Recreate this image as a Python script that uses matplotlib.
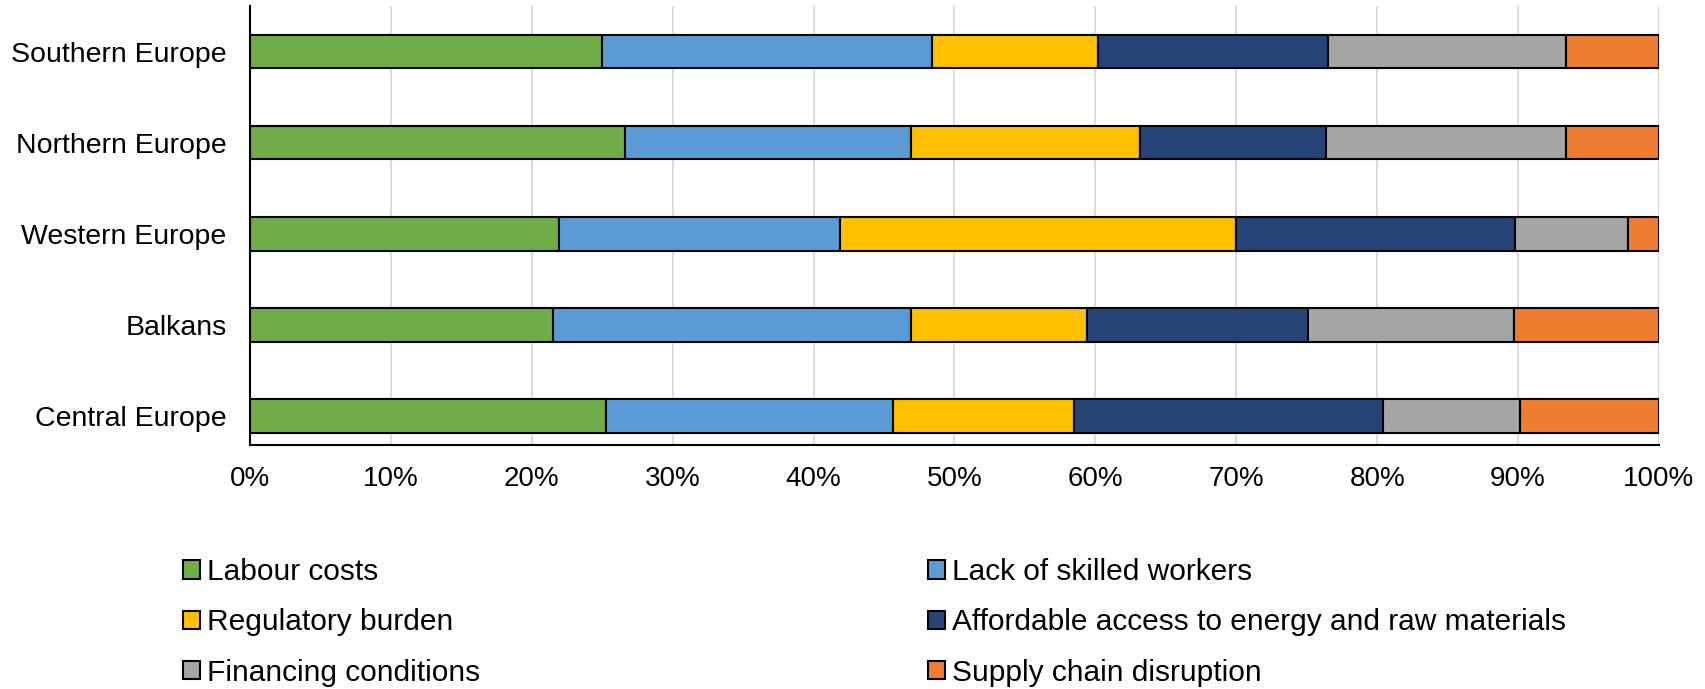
import numpy as np
import matplotlib.pyplot as plt
from matplotlib.ticker import PercentFormatter

plt.rcParams["font.family"] = ["Liberation Sans", "DejaVu Sans"]

regions = ["Central Europe", "Balkans", "Western Europe", "Northern Europe", "Southern Europe"]
series = ["Labour costs", "Lack of skilled workers", "Regulatory burden",
          "Affordable access to energy and raw materials", "Financing conditions",
          "Supply chain disruption"]
colors = ["#70AD47", "#5B9BD5", "#FFC000", "#264478", "#A5A5A5", "#ED7D31"]

# shares in %, order follows `regions`
labour = [25.3, 21.5, 21.9, 26.6, 25.0]
skilled = [20.3, 25.4, 20.0, 20.3, 23.4]
regulatory = [12.9, 12.5, 28.1, 16.3, 11.8]
energy = [21.9, 15.7, 19.8, 13.2, 16.3]
financing = [9.7, 14.6, 8.0, 17.0, 16.9]
supply = [9.9, 10.3, 2.2, 6.6, 6.6]
values = [labour, skilled, regulatory, energy, financing, supply]

fig = plt.figure(figsize=(17.06, 6.89), dpi=100)
ax = fig.add_axes([250 / 1706, 1 - 445 / 689, 1409 / 1706, 439 / 689])

y = np.arange(len(regions))
left = np.zeros(len(regions))
handles = []
for name, vals, c in zip(series, values, colors):
    vals = np.array(vals)
    h = ax.barh(y, vals, left=left, height=0.37, color=c, edgecolor="black",
                linewidth=1.5, label=name, zorder=3)
    handles.append(h)
    left += vals

ax.set_xlim(0, 100)
ax.set_ylim(-0.32, 4.5)
ax.set_yticks(y)
ax.set_yticklabels(regions, fontsize=20.5)
ax.set_xticks(np.arange(0, 101, 10))
ax.xaxis.set_major_formatter(PercentFormatter(decimals=0))
ax.tick_params(axis="x", labelsize=20, length=0, pad=15)
ax.tick_params(axis="y", length=0, pad=17)
ax.grid(axis="x", color="#D9D9D9", linewidth=1.3, zorder=0)
for s in ["top", "right"]:
    ax.spines[s].set_visible(False)
for s in ["left", "bottom"]:
    ax.spines[s].set_linewidth(1.5)
    ax.spines[s].set_zorder(4)

# legend fills column-wise, so reorder to get the reference's row layout
order = [0, 2, 4, 1, 3, 5]
fig.legend([handles[i] for i in order], [series[i] for i in order],
           ncol=2, loc="upper left", bbox_to_anchor=(183 / 1706, 1 - 558 / 689),
           frameon=False, fontsize=21.5, handlelength=0.57, handleheight=0.57,
           handletextpad=0.23, columnspacing=15.0, labelspacing=0.75,
           borderaxespad=0, borderpad=0)

fig.savefig("out.png", dpi=100)
